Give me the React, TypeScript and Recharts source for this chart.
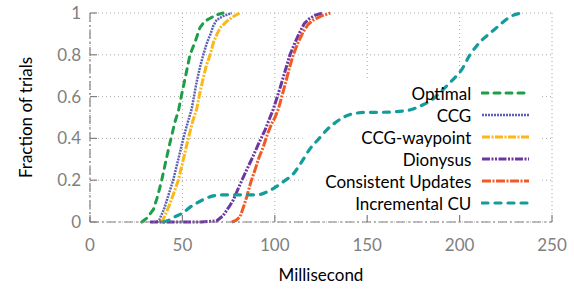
import React from 'react';
import { LineChart, Line, XAxis, YAxis, CartesianGrid, ReferenceArea } from 'recharts';

// CDF points [millisecond, fraction]
const optimal = [
  [28, 0], [31, 0.02], [34.3, 0.06], [36.5, 0.12], [38.8, 0.2], [41, 0.29], [43.3, 0.38], [46, 0.48],
  [47.8, 0.53], [49.6, 0.61], [52, 0.71], [54.1, 0.8], [56.8, 0.86], [59.5, 0.93], [62, 0.96],
  [65, 0.975], [68, 0.99], [72, 1],
];
const ccg = [
  [36, 0], [37.5, 0.01], [40, 0.06], [42.5, 0.13], [45, 0.2], [47.8, 0.3], [50.5, 0.4], [53, 0.48],
  [55, 0.54], [57.7, 0.67], [59.5, 0.74], [61.3, 0.8], [63, 0.85], [65, 0.895], [66.8, 0.94],
  [68.5, 0.966], [72, 0.985], [76.7, 1],
];
const ccgWaypoint = [
  [38, 0], [39.5, 0.01], [42, 0.06], [45, 0.13], [47.8, 0.2], [50.5, 0.3], [53.2, 0.4], [55.5, 0.48],
  [57.7, 0.54], [59.5, 0.62], [61.3, 0.69], [63, 0.75], [65, 0.8], [66.8, 0.86], [68.5, 0.895],
  [70.5, 0.93], [74, 0.96], [77, 0.98], [81, 1],
];
const dionysus = [
  [32.5, 0], [50, 0], [60, 0], [68.5, 0.005], [72, 0.03], [75.8, 0.08], [77.5, 0.105], [81.2, 0.18],
  [84.8, 0.25], [88, 0.31], [91, 0.37], [94.7, 0.44], [97.4, 0.5], [99.2, 0.54], [102.8, 0.64],
  [105.5, 0.72], [108.2, 0.8], [111, 0.86], [113.6, 0.91], [116, 0.95], [119, 0.975], [122, 0.99],
  [126, 1],
];
const consistentUpdates = [
  [76.7, 0], [79, 0.008], [81.2, 0.025], [83, 0.07], [84.8, 0.12], [87, 0.19], [89.3, 0.25],
  [91.5, 0.31], [93.8, 0.36], [96, 0.42], [98.3, 0.47], [100.1, 0.5], [101.9, 0.54], [105.5, 0.655],
  [108, 0.74], [110, 0.8], [112.7, 0.86], [115.4, 0.91], [118, 0.945], [120.8, 0.966], [125, 0.985],
  [130, 1],
];
const incrementalCU = [
  [39.7, 0], [43, 0.01], [46, 0.025], [50.5, 0.045], [54, 0.07], [57.7, 0.09], [62, 0.11],
  [66.7, 0.125], [72, 0.13], [80, 0.13], [88, 0.13], [92, 0.132], [96, 0.145], [101, 0.17],
  [105, 0.195], [110, 0.23], [114, 0.28], [119, 0.35], [124, 0.4], [128, 0.44], [132, 0.47],
  [136, 0.495], [141, 0.515], [150, 0.525], [158.7, 0.525], [166, 0.528], [173, 0.536], [180, 0.56],
  [185.8, 0.59], [190, 0.625], [194, 0.66], [198.4, 0.7], [201, 0.727], [205.6, 0.8], [209, 0.84],
  [212, 0.87], [216, 0.9], [220, 0.93], [224, 0.96], [227, 0.98], [233.6, 1],
];

const xTicks = [0, 50, 100, 150, 200, 250];
const yTicks = [0, 0.2, 0.4, 0.6, 0.8, 1];

const series = [
  { name: 'Optimal', points: optimal, color: '#1e9e48', dash: '6 6', width: 3, cap: 'round', type: 'linear' },
  { name: 'CCG', points: ccg, color: '#5b62b6', dash: '2 1', width: 2.5, cap: 'butt', type: 'linear' },
  { name: 'CCG-waypoint', points: ccgWaypoint, color: '#fbb818', dash: '8 1.5 2 1.5', width: 3, cap: 'butt', type: 'linear' },
  { name: 'Dionysus', points: dionysus, color: '#6c36a3', dash: '8 1.5 2 1.5 2 1.5', width: 3, cap: 'butt', type: 'linear' },
  { name: 'Consistent Updates', points: consistentUpdates, color: '#f15a24', dash: '9 1.5 2 1.5', width: 3, cap: 'butt', type: 'linear' },
  { name: 'Incremental CU', points: incrementalCU, color: '#149c9a', dash: '6 7', width: 3.2, cap: 'round', type: 'monotone' },
];

const toRows = (pts: number[][]) => pts.map(([x, y]) => ({ x, y }));

const gray = '#808080';

const XTick = (props: any) => {
  const { x, y, payload } = props;
  return (
    <g>
      <line x1={x} y1={y} x2={x} y2={y - 7} stroke={gray} strokeWidth={1.2} />
      <text x={x} y={y + 29} textAnchor="middle" fill={gray} fontSize={17}>{payload.value}</text>
    </g>
  );
};

const YTick = (props: any) => {
  const { x, y, payload } = props;
  return (
    <g>
      <line x1={x} y1={y} x2={x + 7} y2={y} stroke={gray} strokeWidth={1.2} />
      <text x={x - 9} y={y + 6} textAnchor="end" fill={gray} fontSize={17}>{payload.value}</text>
    </g>
  );
};

export default function App() {
  return (
    <div style={{ position: 'absolute', left: 0, top: 0, width: 574, height: 290, background: '#fff', fontFamily: 'Lato, sans-serif' }}>
      <LineChart width={574} height={290} margin={{ top: 13, right: 22, bottom: 0, left: 0 }}>
        <CartesianGrid stroke="#aaa" strokeDasharray="1 3" />
        <ReferenceArea x1={115} x2={244} y1={0.033} y2={0.68} fill="#fff" fillOpacity={1} stroke="none" />
        <XAxis
          type="number"
          dataKey="x"
          domain={[0, 250]}
          ticks={xTicks}
          height={68}
          tickSize={0}
          tickMargin={0}
          tickLine={false}
          axisLine={{ stroke: gray, strokeDasharray: '9 3 2 3', strokeWidth: 1.2 }}
          tick={<XTick />}
          label={{ value: 'Millisecond', position: 'insideBottom', offset: 9, fill: '#000', fontSize: 17 }}
        />
        <YAxis
          type="number"
          dataKey="y"
          domain={[0, 1]}
          ticks={yTicks}
          width={90}
          tickSize={0}
          tickMargin={0}
          tickLine={false}
          axisLine={{ stroke: gray, strokeDasharray: '9 3 2 3', strokeWidth: 1.2 }}
          tick={<YTick />}
          label={{ value: 'Fraction of trials', angle: -90, position: 'insideLeft', offset: 26, fill: '#000', fontSize: 17, style: { textAnchor: 'middle' } }}
        />
        {series.map((s) => (
          <Line
            key={s.name}
            data={toRows(s.points)}
            dataKey="y"
            type={s.type as any}
            stroke={s.color}
            strokeWidth={s.width}
            strokeDasharray={s.dash}
            strokeLinecap={s.cap as any}
            dot={false}
            isAnimationActive={false}
          />
        ))}
      </LineChart>
      <div style={{ position: 'absolute', left: 300, top: 82, width: 240 }}>
        {series.map((s) => (
          <div key={s.name} style={{ display: 'flex', alignItems: 'center', height: 22 }}>
            <div style={{ width: 175, textAlign: 'right', fontSize: 17, color: '#000' }}>{s.name}</div>
            <svg width={60} height={22} style={{ marginLeft: 10 }}>
              <line x1={1} y1={11} x2={48} y2={11} stroke={s.color} strokeWidth={s.width} strokeDasharray={s.dash} strokeLinecap={s.cap as any} />
            </svg>
          </div>
        ))}
      </div>
    </div>
  );
}
